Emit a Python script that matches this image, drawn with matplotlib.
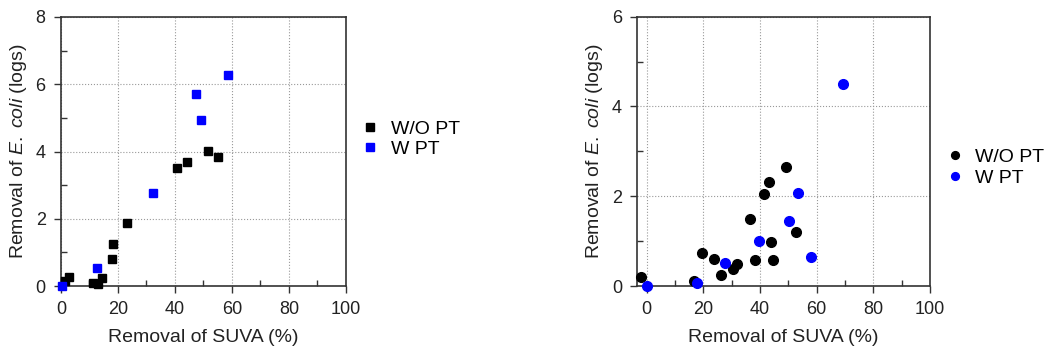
import matplotlib
matplotlib.use("Agg")
import matplotlib.pyplot as plt
from matplotlib.ticker import MultipleLocator

plt.rcParams['font.family'] = ['Liberation Sans', 'DejaVu Sans']
plt.rcParams['mathtext.fontset'] = 'custom'
plt.rcParams['mathtext.rm'] = 'Liberation Sans'
plt.rcParams['mathtext.it'] = 'Liberation Sans:italic'

# Left panel (squares)
left_wo_x = [1.5, 2.8, 11.4, 13.1, 14.5, 18.0, 18.4, 23.2, 40.9, 44.3, 51.6, 55.2]
left_wo_y = [0.15, 0.28, 0.08, 0.06, 0.25, 0.79, 1.25, 1.88, 3.52, 3.68, 4.02, 3.85]
left_w_x = [0.35, 12.5, 32.4, 47.5, 49.1, 58.5]
left_w_y = [0.0, 0.54, 2.77, 5.71, 4.93, 6.28]

# Right panel (circles)
right_wo_x = [-2.0, 16.8, 19.6, 23.8, 26.1, 30.4, 32.0, 36.4, 38.1, 41.5, 43.2, 44.0, 44.7, 49.1, 52.6]
right_wo_y = [0.21, 0.12, 0.73, 0.61, 0.24, 0.39, 0.48, 1.50, 0.58, 2.04, 2.32, 0.99, 0.59, 2.64, 1.21]
right_w_x = [0.0, 17.6, 27.8, 39.6, 50.4, 53.5, 58.0, 69.4]
right_w_y = [0.0, 0.07, 0.52, 1.01, 1.45, 2.07, 0.65, 4.50]

series_labels = ["W/O PT", "W PT"]
xlabel = "Removal of SUVA (%)"
ylabel = r"Removal of $\it{E.\ coli}$ (logs)"

fig = plt.figure(figsize=(10.51, 3.54), dpi=100)
ax1 = fig.add_axes([0.058, 0.192, 0.271, 0.760])
ax2 = fig.add_axes([0.6064, 0.192, 0.2785, 0.761])

BLUE = '#0000ff'
TXT = '#222222'

def style(ax, xlim, ylim, ymaj, ymin):
    ax.set_xlim(*xlim)
    ax.set_ylim(*ylim)
    ax.xaxis.set_major_locator(MultipleLocator(20))
    ax.xaxis.set_minor_locator(MultipleLocator(10))
    ax.yaxis.set_major_locator(MultipleLocator(ymaj))
    ax.yaxis.set_minor_locator(MultipleLocator(ymin))
    ax.tick_params(which='major', direction='out', length=5, width=1, labelsize=13,
                   colors='#333333', labelcolor=TXT, pad=6)
    ax.tick_params(which='minor', direction='in', length=4, width=1, colors='#333333')
    ax.grid(True, which='major', linestyle=':', color='#999999', linewidth=0.8)
    ax.set_axisbelow(True)
    for s in ax.spines.values():
        s.set_linewidth(1.2)
        s.set_color('#333333')
    ax.set_xlabel(xlabel, fontsize=14, labelpad=8, color=TXT)
    ax.set_ylabel(ylabel, fontsize=14, labelpad=5, color=TXT)

leg_kw = dict(frameon=False, fontsize=14, handletextpad=0.55, labelspacing=0.15,
              handlelength=1.0, borderaxespad=0, borderpad=0)

l1, = ax1.plot(left_wo_x, left_wo_y, 's', color='black', markersize=6, linestyle='none',
               label=series_labels[0], clip_on=False, zorder=3)
l2, = ax1.plot(left_w_x, left_w_y, 's', color=BLUE, markersize=6, linestyle='none',
               label=series_labels[1], clip_on=False, zorder=3)
style(ax1, (0, 100), (0, 8), 2, 1)
ax1.legend(handles=[l1, l2], loc='center left', bbox_to_anchor=(0.343, 0.607),
           bbox_transform=fig.transFigure, markerscale=0.9, **leg_kw)

r1, = ax2.plot(right_wo_x, right_wo_y, 'o', color='black', markersize=7, linestyle='none',
               label=series_labels[0], clip_on=False, zorder=3)
r2, = ax2.plot(right_w_x, right_w_y, 'o', color=BLUE, markersize=7, linestyle='none',
               label=series_labels[1], clip_on=False, zorder=3)
style(ax2, (-3.3, 100), (0, 6), 2, 1)
ax2.legend(handles=[r1, r2], loc='center left', bbox_to_anchor=(0.899, 0.527),
           bbox_transform=fig.transFigure, markerscale=0.8, **leg_kw)

fig.savefig('out.png', dpi=100)
